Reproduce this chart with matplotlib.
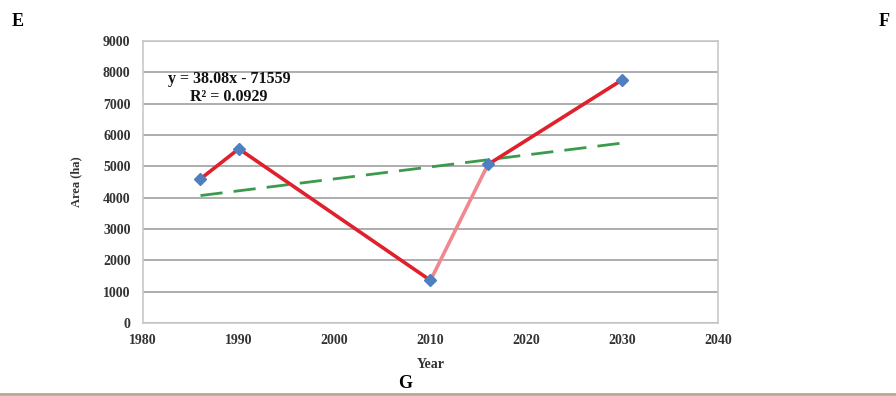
import numpy as np
import matplotlib.pyplot as plt

# data
years = [1986, 1990, 2010, 2016, 2030]
area = [4600, 5560, 1360, 5060, 7760]
slope = 38.08
intercept = -71559
eq_text = "y = 38.08x - 71559\nR² = 0.0929"

plt.rcParams['font.family'] = ['Liberation Serif', 'DejaVu Serif']
plt.rcParams['font.weight'] = 'bold'

fig = plt.figure(figsize=(8.96, 3.96), dpi=100)
ax = fig.add_axes([0.1596, 0.1843, 0.6417, 0.7121])

# red line, segment 2010-2016 is lighter
for i in range(len(years) - 1):
    col = '#f08890' if years[i] == 2010 else '#e0202c'
    ax.plot(years[i:i + 2], area[i:i + 2], color=col, lw=2.6,
            solid_capstyle='round', zorder=3)
ax.plot(years, area, ls='none', marker='D', ms=6, color='#4f7fbf', zorder=4)

# linear trend
tx = np.array([years[0], years[-1]])
ax.plot(tx, slope * tx + intercept, color='#3c9a4c', lw=2, ls=(0, (8, 4)), zorder=2)

ax.set_xlim(1980, 2040)
ax.set_ylim(0, 9000)
ax.set_xticks(range(1980, 2041, 10))
ax.set_yticks(range(0, 9001, 1000))
ax.grid(axis='y', color='#a0a0a0', lw=1.2)
ax.set_axisbelow(True)
for s in ax.spines.values():
    s.set_color('#c8c8c8')
    s.set_linewidth(1.2)
ax.tick_params(length=0, labelsize=10, colors='#333333', pad=9)
ax.tick_params(axis='x', pad=8)
for t in ax.get_xticklabels() + ax.get_yticklabels():
    t.set_fontweight('bold')

ax.set_xlabel('Year', fontsize=10, fontweight='bold', color='#333333', labelpad=8)
ax.set_ylabel('Area (ha)', fontsize=9, fontweight='bold', color='#333333', labelpad=15)

ax.text(229 / 896, (396 - 88) / 396, eq_text, transform=fig.transFigure,
        ha='center', va='center', fontsize=11.5, fontweight='bold',
        linespacing=1.15, color='#111111')

fig.text(18 / 896, 374 / 396, 'E', fontsize=13, fontweight='bold', ha='center', va='center')
fig.text(884 / 896, 374 / 396, 'F', fontsize=13, fontweight='bold', ha='center', va='center')
fig.text(405 / 896, 13 / 396, 'G', fontsize=13, fontweight='bold', ha='center', va='center')
fig.add_artist(plt.Line2D([0, 1], [2.5 / 396, 2.5 / 396], transform=fig.transFigure,
                          color='#b8a890', lw=2))

fig.savefig('out.png', dpi=100)
